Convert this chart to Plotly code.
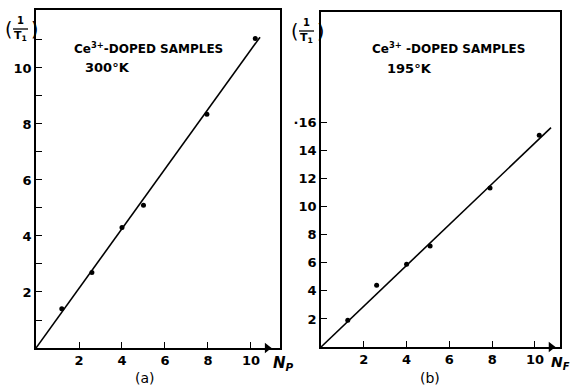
import plotly.graph_objects as go

# ---- data ----
a_x = [1.2, 2.6, 4.0, 5.0, 7.95, 10.2]
a_y = [1.4, 2.7, 4.3, 5.1, 8.35, 11.05]
a_line_x = [0, 10.42]
a_line_y = [0, 11.1]

b_x = [1.25, 2.6, 4.0, 5.1, 7.9, 10.2]
b_y = [1.9, 4.4, 5.9, 7.2, 11.35, 15.1]
b_line_x = [0, 10.75]
b_line_y = [0, 15.65]

a_yticks = [2, 4, 6, 8, 10]
a_yticklabels = ["2", "4", "6", "8", "10"]
a_yminor = [1, 3, 5, 7, 9, 11]
b_yticks = [2, 4, 6, 8, 10, 12, 14, 16]
b_yticklabels = ["2", "4", "6", "8", "10", "12", "14", "·16"]
xticks = [2, 4, 6, 8, 10]
xticklabels = ["2", "4", "6", "8", "10"]
arrow_x = [10.75]
arrow_y = [0]

FONT = "DejaVu Sans"
W, H = 571, 386

fig = go.Figure()

for xa, ya, lx, ly, px, py in [("x", "y", a_line_x, a_line_y, a_x, a_y),
                               ("x2", "y2", b_line_x, b_line_y, b_x, b_y)]:
    fig.add_trace(go.Scatter(x=lx, y=ly, mode="lines",
                             line=dict(color="black", width=1.6),
                             xaxis=xa, yaxis=ya, showlegend=False, hoverinfo="skip"))
    fig.add_trace(go.Scatter(x=px, y=py, mode="markers",
                             marker=dict(color="black", size=5),
                             xaxis=xa, yaxis=ya, showlegend=False))
    # arrowhead at the end of the x axis
    fig.add_trace(go.Scatter(x=arrow_x, y=arrow_y, mode="markers",
                             marker=dict(color="black", size=9, symbol="triangle-right"),
                             xaxis=xa, yaxis=ya, showlegend=False, cliponaxis=False,
                             hoverinfo="skip"))

tickfont = dict(family=FONT, size=13, color="black", weight="bold")
common = dict(showline=True, mirror=True, linecolor="black", linewidth=1.6,
              showgrid=False, zeroline=False, ticks="inside", ticklen=6,
              tickwidth=1.3, tickcolor="black", tickfont=tickfont)

fig.update_layout(
    width=W, height=H,
    margin=dict(l=0, r=0, t=0, b=0),
    paper_bgcolor="white", plot_bgcolor="white",
    xaxis=dict(domain=[36 / W, 280 / W], range=[0, 11.35],
               tickmode="array", tickvals=xticks, ticktext=xticklabels,
               anchor="y", **common),
    yaxis=dict(domain=[(H - 348) / H, (H - 10) / H], range=[0, 12.07],
               tickmode="array", tickvals=a_yticks, ticktext=a_yticklabels,
               minor=dict(tickmode="array", tickvals=a_yminor, ticks="inside",
                          ticklen=6, tickwidth=1.3, tickcolor="black"),
               anchor="x", **common),
    xaxis2=dict(domain=[321 / W, 560 / W], range=[0, 11.17],
                tickmode="array", tickvals=xticks, ticktext=xticklabels,
                anchor="y2", **common),
    yaxis2=dict(domain=[(H - 347) / H, (H - 12) / H], range=[0, 23.9],
                tickmode="array", tickvals=b_yticks, ticktext=b_yticklabels,
                anchor="x2", **common),
)

ann = []

def paper_text(x, y, text, size=13, xanchor="left", weight="bold"):
    ann.append(dict(x=x / W, y=1 - y / H, xref="paper", yref="paper",
                    text=text, showarrow=False, xanchor=xanchor, yanchor="middle",
                    font=dict(family=FONT, size=size, color="black", weight=weight)))

# (1/T1) labels
for x0, y0 in [(0, 29), (286, 31)]:
    paper_text(x0 + 3, y0, "(", size=19, weight="normal")
    paper_text(x0 + 20, y0 - 8, "1", size=10, xanchor="center")
    paper_text(x0 + 20, y0 + 7, "T<sub>1</sub>", size=11, xanchor="center")
    paper_text(x0 + 29, y0, ")", size=19, weight="normal")
    fig.add_shape(type="line", xref="paper", yref="paper",
                  x0=(x0 + 13) / W, x1=(x0 + 28) / W, y0=1 - y0 / H, y1=1 - y0 / H,
                  line=dict(color="black", width=1.3))

# annotations in panels
paper_text(72, 48, "Ce<sup>3+</sup>-DOPED SAMPLES", size=12)
paper_text(83, 68, "300°K", size=13)
paper_text(370, 48, "Ce<sup>3+</sup> -DOPED SAMPLES", size=12)
paper_text(385, 69, "195°K", size=13)

paper_text(271, 363, "<i>N<sub>P</sub></i>", size=15)
paper_text(549, 363, "<i>N<sub>F</sub></i>", size=14)
paper_text(145, 378, "(a)", size=14, xanchor="center", weight="normal")
paper_text(430, 378, "(b)", size=14, xanchor="center", weight="normal")

fig.update_layout(annotations=ann)
fig.write_html("out.html")
